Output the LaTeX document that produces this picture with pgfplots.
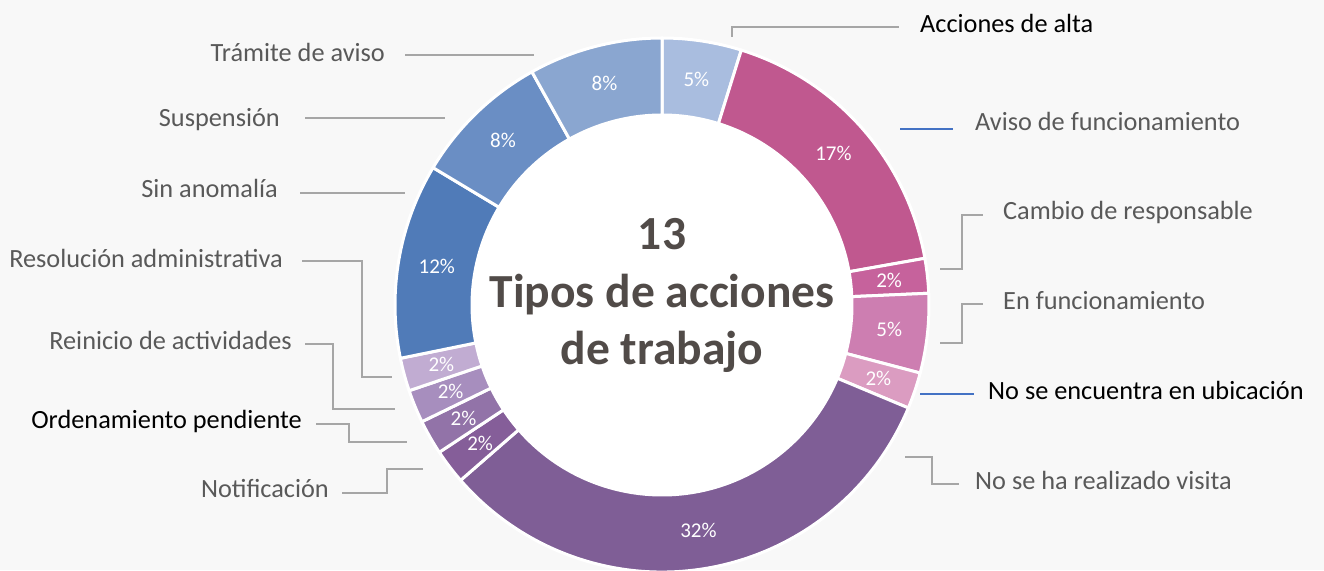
\documentclass[border=0pt]{standalone}
\usepackage{pgfplots}
\pgfplotsset{compat=1.18}
\usepackage{pgfplotstable}
\usepackage{fontspec}
\setmainfont{Carlito}
\definecolor{bg}{HTML}{F8F8F8}
\definecolor{lbl}{HTML}{595959}
\definecolor{ctr}{HTML}{514B48}
\definecolor{lead}{HTML}{A6A6A6}
\definecolor{leadblue}{HTML}{4472C4}
\definecolor{cA}{HTML}{A9BDDF}
\definecolor{cB}{HTML}{C0588F}
\definecolor{cC}{HTML}{C6629C}
\definecolor{cD}{HTML}{CD7EB1}
\definecolor{cE}{HTML}{DB9CC1}
\definecolor{cF}{HTML}{7F5E96}
\definecolor{cG}{HTML}{855E99}
\definecolor{cH}{HTML}{9273A8}
\definecolor{cI}{HTML}{A78EBE}
\definecolor{cJ}{HTML}{C1ACD2}
\definecolor{cK}{HTML}{507BB8}
\definecolor{cL}{HTML}{6A8EC4}
\definecolor{cM}{HTML}{8AA6D0}
\newcommand\pctfont{\fontsize{21}{24}\selectfont}
\newcommand\lblfont{\fontsize{26.3}{30}\selectfont}
\newcommand\ctrfont{\fontsize{47.5}{56}\selectfont\bfseries}
\pgfplotstableread[col sep=comma]{
label,pct,col
Acciones de alta,4.8,cA
Aviso de funcionamiento,17.4,cB
Cambio de responsable,2.1,cC
En funcionamiento,4.8,cD
No se encuentra en ubicación,2.2,cE
No se ha realizado visita,32.3,cF
Notificación,2.1,cG
Ordenamiento pendiente,2.1,cH
Reinicio de actividades,2.0,cI
Resolución administrativa,2.0,cJ
Sin anomalía,11.8,cK
Suspensión,8.3,cL
Trámite de aviso,8.1,cM
}\slices
\begin{document}
\begin{tikzpicture}
\begin{axis}[x=1pt, y=1pt, xmin=0, xmax=1324, ymin=0, ymax=570,
  hide axis, scale only axis, clip=true]
\fill[bg] (axis cs:0,0) rectangle (axis cs:1324,570);
\fill[white] (axis cs:662,265) circle[radius=190pt];
\pgfplotstablegetrowsof{\slices}
\pgfmathtruncatemacro{\N}{\pgfplotsretval-1}
\def\cum{0}
\pgfplotsforeachungrouped \i in {0,...,\N}{%
  \pgfplotstablegetelem{\i}{pct}\of{\slices}\let\sv\pgfplotsretval
  \pgfplotstablegetelem{\i}{col}\of{\slices}\let\scol\pgfplotsretval
  \pgfmathsetmacro{\angA}{90-3.6*\cum}
  \pgfmathsetmacro{\angB}{90-3.6*(\cum+\sv)}
  \pgfmathsetmacro{\angM}{(\angA+\angB)/2}
  \pgfmathsetmacro{\cum}{\cum+\sv}
  \pgfmathsetmacro{\xA}{662+267*cos(\angA)}
  \pgfmathsetmacro{\yA}{265+267*sin(\angA)}
  \pgfmathsetmacro{\xB}{662+190*cos(\angB)}
  \pgfmathsetmacro{\yB}{265+190*sin(\angB)}
  \pgfmathsetmacro{\xM}{662+228.5*cos(\angM)}
  \pgfmathsetmacro{\yM}{265+228.5*sin(\angM)}
  \pgfmathtruncatemacro{\pr}{round(\sv)}
  \edef\doslice{%
    \noexpand\fill[\scol, draw=white, line width=3pt, line join=round]
      (axis cs:\xA,\yA) arc[start angle=\angA, end angle=\angB, radius=267pt]
      -- (axis cs:\xB,\yB) arc[start angle=\angB, end angle=\angA, radius=190pt] -- cycle;
    \noexpand\node[text=white, font=\noexpand\pctfont, inner sep=0pt] at (axis cs:\xM,\yM) {\pr\noexpand\%};
  }\doslice
}
% leader lines
\draw[lead, line width=1.5pt] (axis cs:732,533) -- (axis cs:732,543) -- (axis cs:899,543);
\draw[leadblue, line width=1.5pt] (axis cs:900,441) -- (axis cs:953,441);
\draw[lead, line width=1.5pt] (axis cs:940,301) -- (axis cs:962,301) -- (axis cs:962,355) -- (axis cs:983,355);
\draw[lead, line width=1.5pt] (axis cs:940,227) -- (axis cs:962,227) -- (axis cs:962,266) -- (axis cs:983,266);
\draw[leadblue, line width=1.5pt] (axis cs:920,176) -- (axis cs:974,176);
\draw[lead, line width=1.5pt] (axis cs:905,113) -- (axis cs:932,113) -- (axis cs:932,86) -- (axis cs:959,86);
\draw[lead, line width=1.5pt] (axis cs:405,515) -- (axis cs:534,515);
\draw[lead, line width=1.5pt] (axis cs:305,452) -- (axis cs:445,452);
\draw[lead, line width=1.5pt] (axis cs:300,377) -- (axis cs:405,377);
\draw[lead, line width=1.5pt] (axis cs:302,309) -- (axis cs:362,309) -- (axis cs:362,193) -- (axis cs:392,193);
\draw[lead, line width=1.5pt] (axis cs:305,226) -- (axis cs:333,226) -- (axis cs:333,161) -- (axis cs:395,161);
\draw[lead, line width=1.5pt] (axis cs:316,146) -- (axis cs:349,146) -- (axis cs:349,128) -- (axis cs:407,128);
\draw[lead, line width=1.5pt] (axis cs:342,77) -- (axis cs:387,77) -- (axis cs:387,101) -- (axis cs:423,101);
% labels
\begin{scope}[every node/.style={inner sep=0pt, font=\lblfont, text=lbl}]
\node[anchor=base west, text=black] at (axis cs:920,537) {Acciones de alta};
\node[anchor=base west] at (axis cs:975,439) {Aviso de funcionamiento};
\node[anchor=base west] at (axis cs:1003,350) {Cambio de responsable};
\node[anchor=base west] at (axis cs:1003,260) {En funcionamiento};
\node[anchor=base west, text=black] at (axis cs:988,170) {No se encuentra en ubicación};
\node[anchor=base west] at (axis cs:975,80) {No se ha realizado visita};
\node[anchor=base east] at (axis cs:385,508) {Trámite de aviso};
\node[anchor=base east] at (axis cs:280,443) {Suspensión};
\node[anchor=base east] at (axis cs:278,372) {Sin anomalía};
\node[anchor=base east] at (axis cs:283,302) {Resolución administrativa};
\node[anchor=base east] at (axis cs:292,220) {Reinicio de actividades};
\node[anchor=base east, text=black] at (axis cs:302,141) {Ordenamiento pendiente};
\node[anchor=base east] at (axis cs:329,72) {Notificación};
\end{scope}
\node[anchor=base, inner sep=0pt, font=\ctrfont, text=ctr] at (axis cs:662,320) {13};
\node[anchor=base, inner sep=0pt, font=\ctrfont, text=ctr] at (axis cs:662,262) {Tipos de acciones};
\node[anchor=base, inner sep=0pt, font=\ctrfont, text=ctr] at (axis cs:662,205) {de trabajo};
\end{axis}
\pgfresetboundingbox
\path[use as bounding box] (0,0) rectangle (1324pt,570pt);
\end{tikzpicture}
\end{document}
